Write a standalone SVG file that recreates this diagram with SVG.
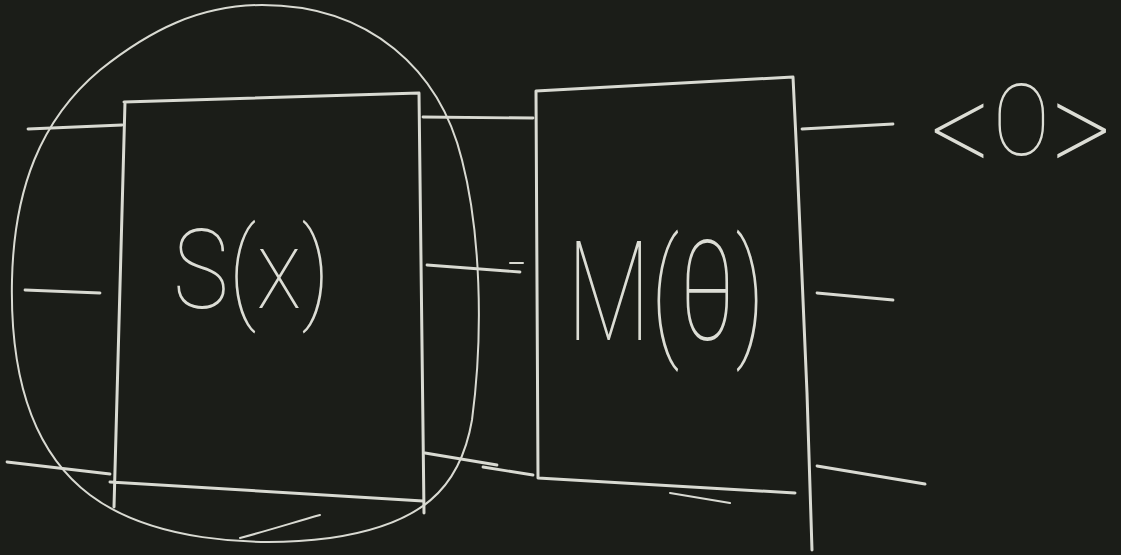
<svg xmlns="http://www.w3.org/2000/svg" width="1121" height="555" viewBox="0 0 1121 555">
  <style>
    .chalk { fill: none; stroke: #d9dad2; stroke-linecap: round; stroke-linejoin: round; }
    .box { stroke-width: 3; }
    .wire { stroke-width: 2.8; }
    .thin { stroke-width: 2; }
    .lbl { fill: #dcddd5; font-family: Roboto, "Open Sans", "DejaVu Sans", sans-serif; font-weight: 100; }
  </style>
  <rect x="0" y="0" width="1121" height="555" fill="#1b1d18"/>

  <g id="group-ellipse">
    <path class="chalk thin" d="M262,5 C370,5 440,70 462,160 C480,230 484,330 472,420 C460,490 420,525 330,538 C250,548 150,540 90,495 C30,450 10,370 12,280 C14,190 40,120 100,70 C150,30 200,5 262,5 Z"/>
    <path class="chalk thin" d="M240,538 C270,530 295,522 320,515"/>
  </g>

  <g id="node-S">
    <path class="chalk box" d="M124,102 L419,93 M125,102 L114,507 M110,482 L423,501 M419,93 L424,513"/>
    <text class="lbl" x="173" y="308" font-size="112" textLength="157" lengthAdjust="spacingAndGlyphs">S(x)</text>
  </g>

  <g id="node-M">
    <path class="chalk box" d="M536,91 L793,77 M536,91 L538,478 M538,478 L795,493 M793,77 L797,160 L807,393 L812,550"/>
    <path class="chalk thin" d="M670,493 L730,503"/>
    <text class="lbl" x="567" y="340" font-size="140" textLength="198" lengthAdjust="spacingAndGlyphs">M(θ)</text>
  </g>

  <g id="node-O" transform="translate(930,0) scale(0.85,1)">
    <text class="lbl" font-size="100"><tspan x="0" y="176" font-size="140">&lt;</tspan><tspan x="74" y="155">O</tspan><tspan x="142" y="176" font-size="140">&gt;</tspan></text>
  </g>

  <g id="connectors">
    <path class="chalk wire" d="M28,129 L122,125"/>
    <path class="chalk wire" d="M25,290 L100,293"/>
    <path class="chalk wire" d="M7,462 L110,474"/>
    <path class="chalk wire" d="M423,117 L533,118"/>
    <path class="chalk wire" d="M427,265 L520,272"/>
    <path class="chalk thin" d="M510,263 L523,263"/>
    <path class="chalk wire" d="M425,453 L497,465"/>
    <path class="chalk wire" d="M483,467 L533,475"/>
    <path class="chalk wire" d="M802,129 L893,124"/>
    <path class="chalk wire" d="M817,293 L893,300"/>
    <path class="chalk wire" d="M817,466 L925,484"/>
  </g>
</svg>
